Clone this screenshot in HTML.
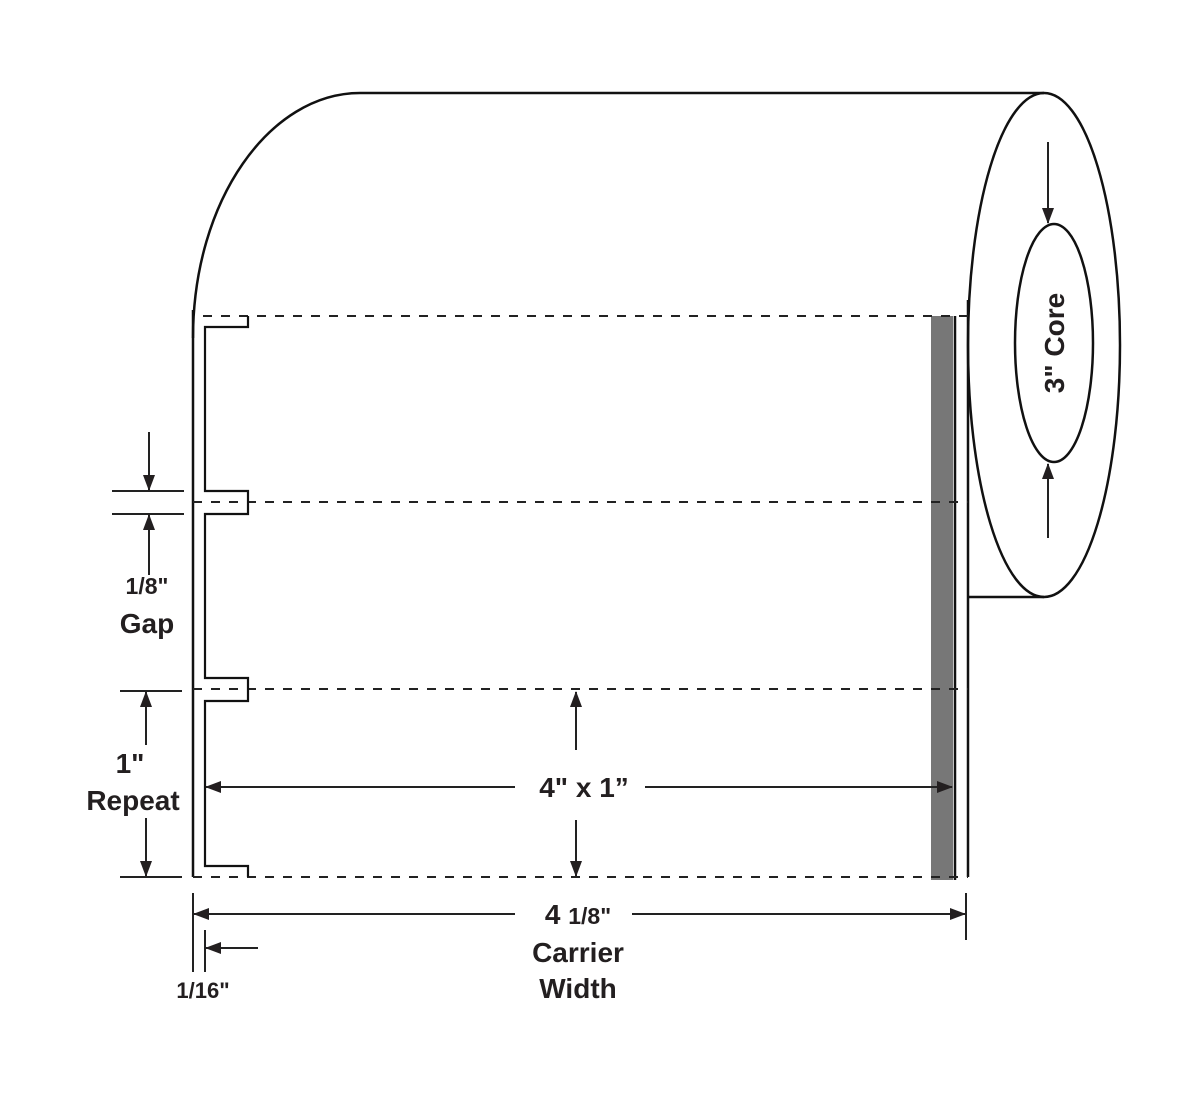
<!DOCTYPE html>
<html><head><meta charset="utf-8"><style>html,body{margin:0;padding:0;background:#fff}svg{display:block}text{font-family:"Liberation Sans",sans-serif;font-weight:bold;fill:#231f20}</style></head><body>
<svg width="1200" height="1096" viewBox="0 0 1200 1096" xmlns="http://www.w3.org/2000/svg">
<defs><marker id="a" markerWidth="16" markerHeight="12" refX="15" refY="6" orient="auto" markerUnits="userSpaceOnUse"><path d="M0,0 L16,6 L0,12 z" fill="#231f20"/></marker></defs>
<g fill="none" stroke="#111" stroke-width="2.5">
<path d="M193,338 C193,200 270,93 360,93 L1044,93"/>
<ellipse cx="1044" cy="345" rx="76" ry="252"/>
<ellipse cx="1054" cy="343" rx="39" ry="119"/>
<line x1="968" y1="597" x2="1044" y2="597"/>
<line x1="193" y1="310" x2="193" y2="877"/>
<line x1="968" y1="300" x2="968" y2="877"/>
<line x1="955" y1="316" x2="955" y2="880"/>
</g>
<rect x="931" y="316" width="22" height="564" fill="#777"/>
<g stroke="#222" stroke-width="2" stroke-dasharray="9,9" fill="none">
<line x1="203" y1="316" x2="968" y2="316"/>
<line x1="193" y1="502" x2="968" y2="502"/>
<line x1="193" y1="689" x2="968" y2="689"/>
<line x1="193" y1="877" x2="968" y2="877"/>
</g>
<path d="M248,316 V327 H205 V491 H248 V514 H205 V678 H248 V701 H205 V866 H248 V877" fill="none" stroke="#111" stroke-width="2.2"/>
<g stroke="#222" stroke-width="2" fill="none">
<line x1="112" y1="491" x2="184" y2="491"/><line x1="112" y1="514" x2="184" y2="514"/>
<line x1="149" y1="432" x2="149" y2="490" marker-end="url(#a)"/>
<line x1="149" y1="575" x2="149" y2="515" marker-end="url(#a)"/>
<line x1="120" y1="691" x2="182" y2="691"/><line x1="120" y1="877" x2="182" y2="877"/>
<line x1="146" y1="745" x2="146" y2="692" marker-end="url(#a)"/>
<line x1="146" y1="818" x2="146" y2="876" marker-end="url(#a)"/>
<line x1="515" y1="787" x2="206" y2="787" marker-end="url(#a)"/>
<line x1="645" y1="787" x2="952" y2="787" marker-end="url(#a)"/>
<line x1="576" y1="750" x2="576" y2="692" marker-end="url(#a)"/>
<line x1="576" y1="820" x2="576" y2="876" marker-end="url(#a)"/>
<line x1="193" y1="893" x2="193" y2="972"/><line x1="966" y1="893" x2="966" y2="940"/>
<line x1="515" y1="914" x2="194" y2="914" marker-end="url(#a)"/>
<line x1="632" y1="914" x2="965" y2="914" marker-end="url(#a)"/>
<line x1="205" y1="930" x2="205" y2="972"/>
<line x1="258" y1="948" x2="206" y2="948" marker-end="url(#a)"/>
<line x1="1048" y1="142" x2="1048" y2="223" marker-end="url(#a)"/>
<line x1="1048" y1="538" x2="1048" y2="464" marker-end="url(#a)"/>
</g>
<g font-size="28" text-anchor="middle">
<text x="147" y="594" font-size="23">1/8"</text>
<text x="147" y="633">Gap</text>
<text x="130" y="773">1"</text>
<text x="133" y="810">Repeat</text>
<text x="584" y="797">4" x 1”</text>
<text x="578" y="924"><tspan>4 </tspan><tspan font-size="23">1/8"</tspan></text>
<text x="578" y="962">Carrier</text>
<text x="578" y="998">Width</text>
<text x="203" y="998" font-size="22">1/16"</text>
<text transform="translate(1064,343) rotate(-90)">3" Core</text>
</g>
</svg>
</body></html>
